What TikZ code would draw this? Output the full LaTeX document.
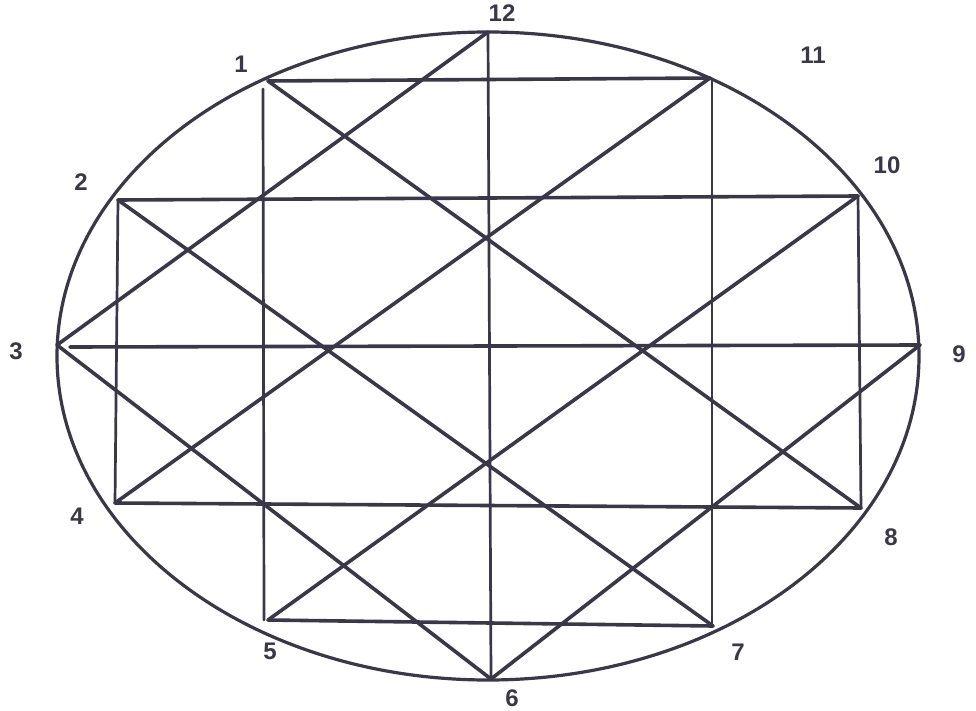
\documentclass[tikz,border=0pt]{standalone}
\usepackage{fontspec}
\setmainfont{Liberation Sans}
\usetikzlibrary{shapes.geometric}
\begin{document}
\begin{tikzpicture}[x=1pt,y=-1pt,
  ink/.style={draw=inkc,line cap=round,line join=round},
  heavy/.style={ink,line width=3.6pt},
  thin/.style={ink,line width=2.7pt},
  lbl/.style={text=inkc,font=\fontsize{24}{24}\selectfont\bfseries,inner sep=0pt}]
\definecolor{inkc}{RGB}{58,56,72}
\useasboundingbox[fill=white] (0,0) rectangle (976,711);
% vertices
\coordinate (p12) at (488,32);
\coordinate (p1) at (268,81);
\coordinate (p11) at (710,78);
\coordinate (p2) at (118,200);
\coordinate (p10) at (858,196);
\coordinate (p3) at (57,345);
\coordinate (p9) at (920,345);
\coordinate (p4) at (115,503);
\coordinate (p8) at (861,508);
\coordinate (p5) at (268,620);
\coordinate (p7) at (713,626);
\coordinate (p6) at (491,679);
\coordinate (p1v) at (263,89);
\coordinate (p5v) at (264,620);
\coordinate (p3h) at (70,347);
\coordinate (p11v) at (712,80);
\coordinate (p7v) at (712,626);
% ellipse
\node[ink,line width=3.2pt,ellipse,minimum width=862pt,minimum height=648pt,inner sep=0pt] (ell) at (488,356) {};
% horizontals
\draw[heavy] (p1) -- (p11);
\draw[heavy] (p2) -- (p10);
\draw[heavy] (p3h) -- (p9);
\draw[heavy] (p4) -- (p8);
\draw[heavy] (p5) -- (p7);
% verticals
\draw[thin] (p1v) -- (p5v);
\draw[thin] (p11v) -- (p7v);
\draw[thin] (p2) -- (p4);
\draw[thin] (p10) -- (p8);
\draw[thin] (p12) -- (p6);
% diagonals
\draw[heavy] (p12) -- (p3);
\draw[heavy] (p1) -- (p8);
\draw[heavy] (p11) -- (p4);
\draw[heavy] (p2) -- (p7);
\draw[heavy] (p10) -- (p5);
\draw[heavy] (p3) -- (p6);
\draw[heavy] (p9) -- (p6);
% labels
\node[lbl] (l12) at (502,13) {12};
\node[lbl] (l1) at (241,64) {1};
\node[lbl] (l11) at (813,55) {11};
\node[lbl] (l2) at (81,182) {2};
\node[lbl] (l10) at (887,165) {10};
\node[lbl] (l3) at (16,351) {3};
\node[lbl] (l9) at (959,354) {9};
\node[lbl] (l4) at (77,516) {4};
\node[lbl] (l8) at (891,537) {8};
\node[lbl] (l5) at (270,651) {5};
\node[lbl] (l7) at (738,652) {7};
\node[lbl] (l6) at (512,698) {6};
\end{tikzpicture}
\end{document}
